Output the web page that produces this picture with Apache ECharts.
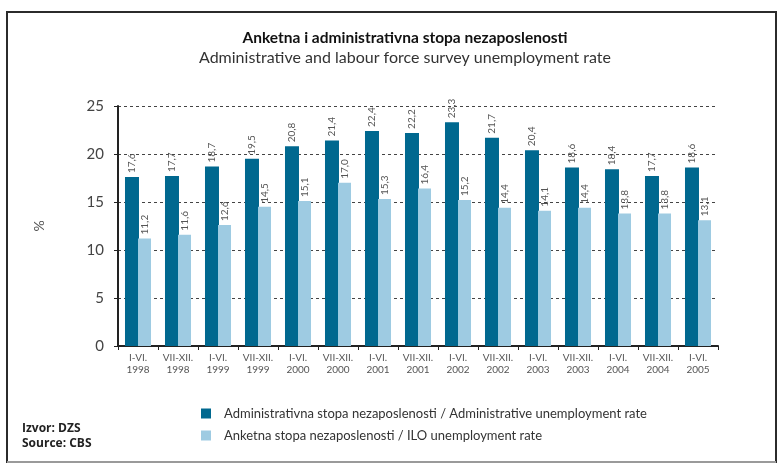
<!DOCTYPE html>
<html>
<head>
<meta charset="utf-8">
<script src="https://cdn.jsdelivr.net/npm/echarts@6/dist/echarts.min.js"></script>
<style>
  html, body { margin: 0; padding: 0; background: #fff; }
  #chart { width: 778px; height: 464px; }
</style>
</head>
<body>
<div id="chart"></div>
<script>
const periods = [
  'I-VI.\n1998', 'VII-XII.\n1998', 'I-VI.\n1999', 'VII-XII.\n1999', 'I-VI.\n2000',
  'VII-XII.\n2000', 'I-VI.\n2001', 'VII-XII.\n2001', 'I-VI.\n2002', 'VII-XII.\n2002',
  'I-VI.\n2003', 'VII-XII.\n2003', 'I-VI.\n2004', 'VII-XII.\n2004', 'I-VI.\n2005',
];
const adminRate = [17.6, 17.7, 18.7, 19.5, 20.8, 21.4, 22.4, 22.2, 23.3, 21.7, 20.4, 18.6, 18.4, 17.7, 18.6];
const iloRate = [11.2, 11.6, 12.6, 14.5, 15.1, 17.0, 15.3, 16.4, 15.2, 14.4, 14.1, 14.4, 13.8, 13.8, 13.1];
const yTicks = [0, 5, 10, 15, 20, 25];

const adminName = 'Administrativna stopa nezaposlenosti / Administrative unemployment rate';
const iloName = 'Anketna stopa nezaposlenosti / ILO unemployment rate';

const font = 'Lato, "Open Sans", sans-serif';

const chart = echarts.init(document.getElementById('chart'), null, { renderer: 'canvas' });

function barLabel() {
  return {
    show: true,
    position: 'top',
    rotate: 90,
    align: 'left',
    verticalAlign: 'middle',
    distance: 4,
    color: '#555',
    fontFamily: font,
    fontSize: 10,
    formatter: (p) => p.value.toFixed(1).replace('.', ','),
  };
}

chart.setOption({
  backgroundColor: '#fff',
  animation: false,
  textStyle: { fontFamily: font },
  title: {
    text: 'Anketna i administrativna stopa nezaposlenosti',
    subtext: 'Administrative and labour force survey unemployment rate',
    left: 400,
    top: 25,
    textAlign: 'center',
    itemGap: 4,
    textStyle: { fontSize: 15.5, fontWeight: 'bold', color: '#111', fontFamily: font },
    subtextStyle: { fontSize: 16, color: '#333', fontFamily: font },
  },
  grid: { left: 118, right: 60, top: 106, bottom: 118 },
  legend: {
    orient: 'vertical',
    left: 196,
    top: 402,
    itemWidth: 10,
    itemHeight: 10,
    itemGap: 9,
    icon: 'rect',
    textStyle: { fontSize: 13, color: '#333', fontFamily: font, padding: [0, 0, 0, 8] },
    data: [adminName, iloName],
  },
  xAxis: {
    type: 'category',
    data: periods,
    axisLine: { lineStyle: { color: '#222', width: 2 } },
    axisTick: { show: true, length: 4, interval: 0, lineStyle: { color: '#222' } },
    axisLabel: {
      interval: 0,
      color: '#555',
      fontSize: 10,
      lineHeight: 12,
      margin: 6,
      fontFamily: font,
    },
  },
  yAxis: {
    type: 'value',
    min: yTicks[0],
    max: yTicks[yTicks.length - 1],
    interval: 5,
    name: '%',
    nameLocation: 'middle',
    nameRotate: 90,
    nameGap: 72,
    nameTextStyle: { color: '#555', fontSize: 14, fontFamily: font },
    axisLine: { show: true, lineStyle: { color: '#222', width: 2 } },
    axisTick: { show: true, length: 4, lineStyle: { color: '#222' } },
    axisLabel: { color: '#444', fontSize: 15, margin: 14, fontFamily: font },
    splitLine: { lineStyle: { color: '#444', type: [3, 3], width: 1 } },
  },
  series: [
    {
      name: adminName,
      type: 'bar',
      data: adminRate,
      barWidth: 14,
      barGap: '-7%',
      itemStyle: { color: '#00688f' },
      label: barLabel(),
    },
    {
      name: iloName,
      type: 'bar',
      data: iloRate,
      barWidth: 13,
      itemStyle: { color: '#9ecbe2' },
      label: barLabel(),
    },
  ],
  graphic: [
    {
      type: 'rect',
      shape: { x: 7, y: 12, width: 769, height: 450 },
      style: { fill: null, stroke: '#2b2b2b', lineWidth: 2 },
    },
    {
      type: 'line',
      shape: { x1: 7, y1: 462, x2: 776, y2: 462 },
      style: { stroke: '#9a9a9a', lineWidth: 2 },
    },
    {
      type: 'text',
      left: 22,
      top: 423,
      style: { text: 'Izvor: DZS', font: 'bold 12px "Open Sans", sans-serif', fill: '#222' },
    },
    {
      type: 'text',
      left: 22,
      top: 438,
      style: { text: 'Source: CBS', font: 'bold 12px "Open Sans", sans-serif', fill: '#222' },
    },
  ],
});

window.addEventListener('resize', () => chart.resize());
</script>
</body>
</html>
